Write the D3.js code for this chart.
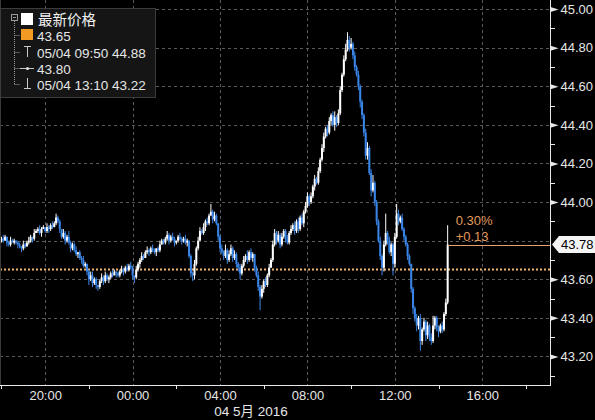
<!DOCTYPE html>
<html><head><meta charset="utf-8">
<script src="https://cdn.jsdelivr.net/npm/d3@7"></script>
<style>html,body{margin:0;padding:0;background:#000;} svg{display:block;}</style>
</head><body>
<svg id="c" width="595" height="420"></svg>
<script>
// ---- data (5-minute bars, 18:00 May 3 -> 14:25 May 4) ----
const startTime = "2016-05-03T18:00";
const barMinutes = 5;
const firstOpen = 43.80;   // later bars open at the previous bar's close
const closes = [
43.81,43.80,43.82,43.79,43.78,43.80,43.79,43.80,43.79,43.78,
43.77,43.76,43.78,43.77,43.79,43.80,43.82,43.81,43.84,43.85,
43.86,43.84,43.86,43.87,43.85,43.87,43.86,43.88,43.87,43.89,
43.92,43.90,43.86,43.82,43.84,43.80,43.82,43.79,43.76,43.78,
43.75,43.73,43.74,43.71,43.70,43.67,43.68,43.64,43.60,43.62,
43.58,43.60,43.57,43.56,43.59,43.61,43.59,43.62,43.60,43.61,
43.63,43.62,43.64,43.63,43.62,43.64,43.65,43.64,43.66,43.65,
43.67,43.66,43.62,43.61,43.65,43.68,43.70,43.72,43.71,43.74,
43.75,43.74,43.76,43.75,43.74,43.76,43.75,43.78,43.80,43.79,
43.81,43.83,43.80,43.82,43.81,43.79,43.80,43.82,43.81,43.80,
43.81,43.79,43.80,43.72,43.63,43.62,43.68,43.76,43.80,43.85,
43.84,43.87,43.90,43.89,43.93,43.95,43.91,43.93,43.89,43.82,
43.76,43.74,43.72,43.75,43.70,43.73,43.76,43.71,43.73,43.68,
43.66,43.63,43.67,43.70,43.72,43.70,43.74,43.71,43.73,43.66,
43.62,43.56,43.51,43.55,43.59,43.57,43.62,43.66,43.70,43.78,
43.84,43.80,43.83,43.78,43.82,43.85,43.81,43.79,43.84,43.86,
43.88,43.85,43.90,43.86,43.92,43.89,43.95,43.98,44.03,44.00,
44.03,44.08,44.12,44.10,44.16,44.22,44.28,44.34,44.38,44.36,
44.42,44.45,44.40,44.44,44.41,44.46,44.58,44.66,44.74,44.79,
44.84,44.80,44.82,44.76,44.70,44.66,44.60,44.52,44.45,44.36,
44.24,44.28,44.15,44.06,44.10,44.00,43.90,43.80,43.72,43.66,
43.78,43.84,43.80,43.74,43.78,43.68,43.82,43.94,43.90,43.92,
43.86,43.82,43.78,43.72,43.68,43.55,43.45,43.40,43.36,43.40,
43.28,43.34,43.38,43.31,43.36,43.30,43.28,43.36,43.40,43.35,
43.33,43.36,43.34,43.42,43.48,43.78];
// wick above the body top, in cents
const upperWick = [
1,2,1,0,1,2,1,1,0,1, 1,0,2,1,1,2,1,0,2,1, 1,2,1,1,0,2,1,1,2,1, 2,1,1,0,2,1,1,3,1,1,
1,2,0,1,1,2,1,0,1,2, 2,1,1,0,1,2,1,2,1,1, 1,2,1,0,1,1,2,1,1,2, 1,2,1,0,2,1,1,2,1,1,
2,1,1,2,1,0,1,2,1,1, 1,2,1,1,2,1,0,1,2,1, 1,2,1,0,1,1,2,1,2,2, 1,2,1,2,1,4,1,2,1,0,
1,2,1,3,1,2,2,1,2,1, 1,2,1,2,1,3,1,2,1,0, 1,2,1,2,1,2,1,2,1,2, 2,1,2,1,2,1,1,2,1,2,
1,2,1,2,1,2,1,2,2,1, 2,1,2,1,2,1,2,2,1,2, 2,1,2,3,1,2,2,1,2,3, 4,2,3,1,2,1,2,1,1,1,
2,3,1,2,4,1,1,1,2,1, 2,10,1,2,1,1,2,5,2,1, 2,1,1,1,1,0,1,1,2,1, 2,1,2,1,2,1,2,5,1,1,
1,1,2,1,2,10];
// wick below the body bottom, in cents
const lowerWick = [
1,1,0,2,1,1,0,1,1,2, 1,2,1,1,0,1,1,2,1,0, 1,1,2,0,1,1,2,1,1,0, 1,1,2,1,1,2,1,1,2,1,
1,1,2,1,2,1,1,2,3,1, 2,1,2,2,1,1,2,1,1,2, 1,1,0,2,1,1,1,2,1,1, 1,1,2,3,1,1,2,1,1,0,
1,2,1,1,1,2,1,1,0,1, 1,1,2,1,1,2,1,1,1,2, 1,1,2,1,2,3,2,1,1,0, 1,1,2,1,1,0,2,1,1,2,
2,1,2,1,2,1,1,2,1,2, 2,3,1,1,1,2,1,1,2,2, 1,2,7,1,2,1,1,1,0,1, 1,2,1,2,1,1,2,1,1,1,
1,2,1,2,1,1,2,1,1,2, 1,1,2,1,1,1,1,2,1,2, 1,2,1,3,2,1,1,1,1,1, 1,2,1,2,2,1,2,3,2,2,
2,2,1,3,1,2,2,1,2,4, 2,1,2,1,2,6,2,1,2,1, 1,2,1,2,1,2,3,2,3,2, 5,2,1,3,2,2,2,1,2,2,
3,1,2,1,1,1];

const yTickValues = [43.20,43.40,43.60,43.80,44.00,44.20,44.40,44.60,44.80,45.00];
const yMinorValues = [43.10,43.30,43.50,43.70,43.90,44.10,44.30,44.50,44.70,44.90];
const xTickTimes = ["2016-05-03T20:00","2016-05-04T00:00","2016-05-04T04:00","2016-05-04T08:00","2016-05-04T12:00","2016-05-04T16:00"];
const xMinorTimes = ["2016-05-03T18:00","2016-05-03T22:00","2016-05-04T02:00","2016-05-04T06:00","2016-05-04T10:00","2016-05-04T14:00","2016-05-04T18:00"];
const xDomain = ["2016-05-03T17:56","2016-05-04T19:06"];
const yDomain = [43.052, 45.047];
const dateLabel = "04 5月 2016";
const prevClose = 43.65;
const lastPrice = 43.78;
const changePct = "0.30%";
const changeAbs = "+0.13";
const legendTitle = "最新价格";
const legendRows = ["43.65","05/04 09:50 44.88","43.80","05/04 13:10 43.22"];

// ---- build ----
const parse = d3.timeParse("%Y-%m-%dT%H:%M");
const t0 = parse(startTime);
const bars = closes.map((c, i) => {
  const o = i === 0 ? firstOpen : closes[i - 1];
  return {
    t: d3.timeMinute.offset(t0, i * barMinutes),
    o, c,
    h: Math.max(o, c) + upperWick[i] / 100,
    l: Math.min(o, c) - lowerWick[i] / 100
  };
});

const W = 595, H = 420, plotR = 550, plotB = 385;
const x = d3.scaleTime().domain(xDomain.map(parse)).range([0, plotR]);
const y = d3.scaleLinear().domain(yDomain).range([plotB, 0]);

const svg = d3.select("#c");
svg.append("rect").attr("width", W).attr("height", H).attr("fill", "#000");

const grid = svg.append("g");
grid.selectAll("line.h").data(yTickValues).join("line")
  .attr("x1", 0).attr("x2", plotR)
  .attr("y1", d => Math.round(y(d)) + 0.5).attr("y2", d => Math.round(y(d)) + 0.5)
  .attr("stroke", "#5a5a5a").attr("stroke-dasharray", "3,3");
grid.selectAll("line.v").data(xTickTimes.map(parse)).join("line")
  .attr("y1", 0).attr("y2", plotB)
  .attr("x1", d => Math.round(x(d)) + 0.5).attr("x2", d => Math.round(x(d)) + 0.5)
  .attr("stroke", "#5a5a5a").attr("stroke-dasharray", "3,3");

// previous close dotted line
svg.append("line")
  .attr("x1", 0).attr("x2", plotR)
  .attr("y1", y(prevClose)).attr("y2", y(prevClose))
  .attr("stroke", "#f2b274").attr("stroke-width", 2).attr("stroke-dasharray", "2,2");

// candles
const bw = 2;
const cg = svg.append("g");
const upCol = "#ffffff", dnCol = "#3a86e8";
cg.selectAll("line").data(bars).join("line")
  .attr("x1", d => x(d.t)).attr("x2", d => x(d.t))
  .attr("y1", d => y(d.h)).attr("y2", d => y(d.l))
  .attr("stroke", d => d.c >= d.o ? upCol : dnCol).attr("stroke-width", 1);
cg.selectAll("rect").data(bars).join("rect")
  .attr("x", d => x(d.t) - bw / 2).attr("width", bw)
  .attr("y", d => y(Math.max(d.o, d.c)))
  .attr("height", d => Math.max(1, Math.abs(y(d.o) - y(d.c))))
  .attr("fill", d => d.c >= d.o ? upCol : dnCol);

// last price line & annotations
const last = bars[bars.length - 1];
svg.append("line")
  .attr("x1", x(last.t)).attr("x2", plotR)
  .attr("y1", Math.round(y(lastPrice)) + 0.5).attr("y2", Math.round(y(lastPrice)) + 0.5)
  .attr("stroke", "#e8a070").attr("stroke-width", 1);
svg.append("text").attr("x", x(last.t) + 8).attr("y", 225).text(changePct)
  .attr("fill", "#e29a5c").attr("font-family", "Liberation Sans, Arial").attr("font-size", 13);
svg.append("text").attr("x", x(last.t) + 8).attr("y", 241).text(changeAbs)
  .attr("fill", "#e29a5c").attr("font-family", "Liberation Sans, Arial").attr("font-size", 13);

// axes
const font = "Liberation Sans, Arial, sans-serif";
svg.append("line").attr("x1", plotR + 0.5).attr("x2", plotR + 0.5).attr("y1", 0).attr("y2", plotB + 1)
  .attr("stroke", "#e8e8e8");
svg.append("line").attr("x1", 0).attr("x2", plotR + 1).attr("y1", plotB + 0.5).attr("y2", plotB + 0.5)
  .attr("stroke", "#e8e8e8");
svg.append("line").attr("x1", 0.5).attr("x2", 0.5).attr("y1", 0).attr("y2", plotB)
  .attr("stroke", "#3a3a3a");

// labelled ticks: the one hidden behind the last-price tag is not labelled
const yLabelled = yTickValues.filter(v => Math.abs(y(v) - y(lastPrice)) > 12);
const yAxis = d3.axisRight(y).tickValues(yLabelled).tickFormat(d3.format(".2f")).tickSize(0).tickPadding(10);
const yg = svg.append("g").attr("transform", `translate(${plotR + 0.5},0)`).call(yAxis);
yg.select(".domain").remove();
yg.selectAll("text").attr("fill", "#e6e6e6").attr("font-family", font).attr("font-size", 13);
yg.selectAll(".tick").append("path").attr("d", "M0,-2.5L8,0L0,2.5Z").attr("fill", "#e8e8e8");
svg.append("g").selectAll("line").data(yMinorValues).join("line")
  .attr("x1", plotR).attr("x2", plotR + 5)
  .attr("y1", d => Math.round(y(d)) + 0.5).attr("y2", d => Math.round(y(d)) + 0.5)
  .attr("stroke", "#e8e8e8");

const xAxis = d3.axisBottom(x).tickValues(xTickTimes.map(parse)).tickFormat(d3.timeFormat("%H:%M")).tickSize(0).tickPadding(6);
const xg = svg.append("g").attr("transform", `translate(0,${plotB})`).call(xAxis);
xg.select(".domain").remove();
xg.selectAll("text").attr("fill", "#e6e6e6").attr("font-family", font).attr("font-size", 13);
svg.append("g").selectAll("line").data(xMinorTimes.map(parse)).join("line")
  .attr("x1", d => Math.round(x(d)) + 0.5).attr("x2", d => Math.round(x(d)) + 0.5)
  .attr("y1", plotB).attr("y2", plotB + 4).attr("stroke", "#e8e8e8");
svg.append("text").attr("x", 251).attr("y", 416).attr("text-anchor", "middle")
  .attr("fill", "#e6e6e6").attr("font-family", "Liberation Sans, Noto Sans CJK SC, sans-serif").attr("font-size", 13.5)
  .text(dateLabel);

// last price tag
const ly = y(lastPrice);
svg.append("path")
  .attr("d", `M${plotR + 2},${ly} L${plotR + 9},${ly - 8.5} H${W} V${ly + 8.5} H${plotR + 9} Z`)
  .attr("fill", "#f4f4f4");
svg.append("text").attr("x", plotR + 11).attr("y", ly + 4.5).text(lastPrice.toFixed(2))
  .attr("fill", "#000").attr("font-family", font).attr("font-size", 13);

// legend
const lg = svg.append("g");
lg.append("rect").attr("x", 0.5).attr("y", 8.5).attr("width", 155).attr("height", 89)
  .attr("fill", "#151515").attr("stroke", "#3c3c3c");
const gc = "#9a9a9a";
lg.append("rect").attr("x", 11.5).attr("y", 14.5).attr("width", 6).attr("height", 6).attr("fill", "none").attr("stroke", gc);
lg.append("line").attr("x1", 13).attr("x2", 16).attr("y1", 17.5).attr("y2", 17.5).attr("stroke", gc);
lg.append("line").attr("x1", 14.5).attr("x2", 14.5).attr("y1", 21).attr("y2", 84.5).attr("stroke", gc).attr("stroke-dasharray", "1,1");
[35, 52, 68, 84].forEach(r => lg.append("line").attr("x1", 14.5).attr("x2", 20).attr("y1", r + 0.5).attr("y2", r + 0.5)
  .attr("stroke", gc).attr("stroke-dasharray", "1,1"));
lg.append("rect").attr("x", 21).attr("y", 13).attr("width", 12).attr("height", 12).attr("fill", "#fff");
lg.append("rect").attr("x", 21).attr("y", 29).attr("width", 12).attr("height", 11).attr("fill", "#f39a24");
lg.append("path").attr("d", "M24,46.5H31M27.5,46.5V57").attr("stroke", "#c8c8c8").attr("fill", "none");
lg.append("line").attr("x1", 20).attr("x2", 34).attr("y1", 68.5).attr("y2", 68.5).attr("stroke", "#c8c8c8");
lg.append("circle").attr("cx", 27.5).attr("cy", 68.5).attr("r", 1.6).attr("fill", "#e0e0e0");
lg.append("path").attr("d", "M27.5,78V88.5M24,88.5H31").attr("stroke", "#c8c8c8").attr("fill", "none");
lg.append("text").attr("x", 38).attr("y", 25).text(legendTitle)
  .attr("fill", "#f0f0f0").attr("font-family", "Noto Sans CJK SC, sans-serif").attr("font-size", 14.5);
const rowBase = [40.5, 57.5, 73.5, 89.5];
legendRows.forEach((s, i) => lg.append("text").attr("x", 37).attr("y", rowBase[i]).text(s)
  .attr("fill", "#e6e6e6").attr("font-family", font).attr("font-size", 13.5));
</script>
</body></html>
